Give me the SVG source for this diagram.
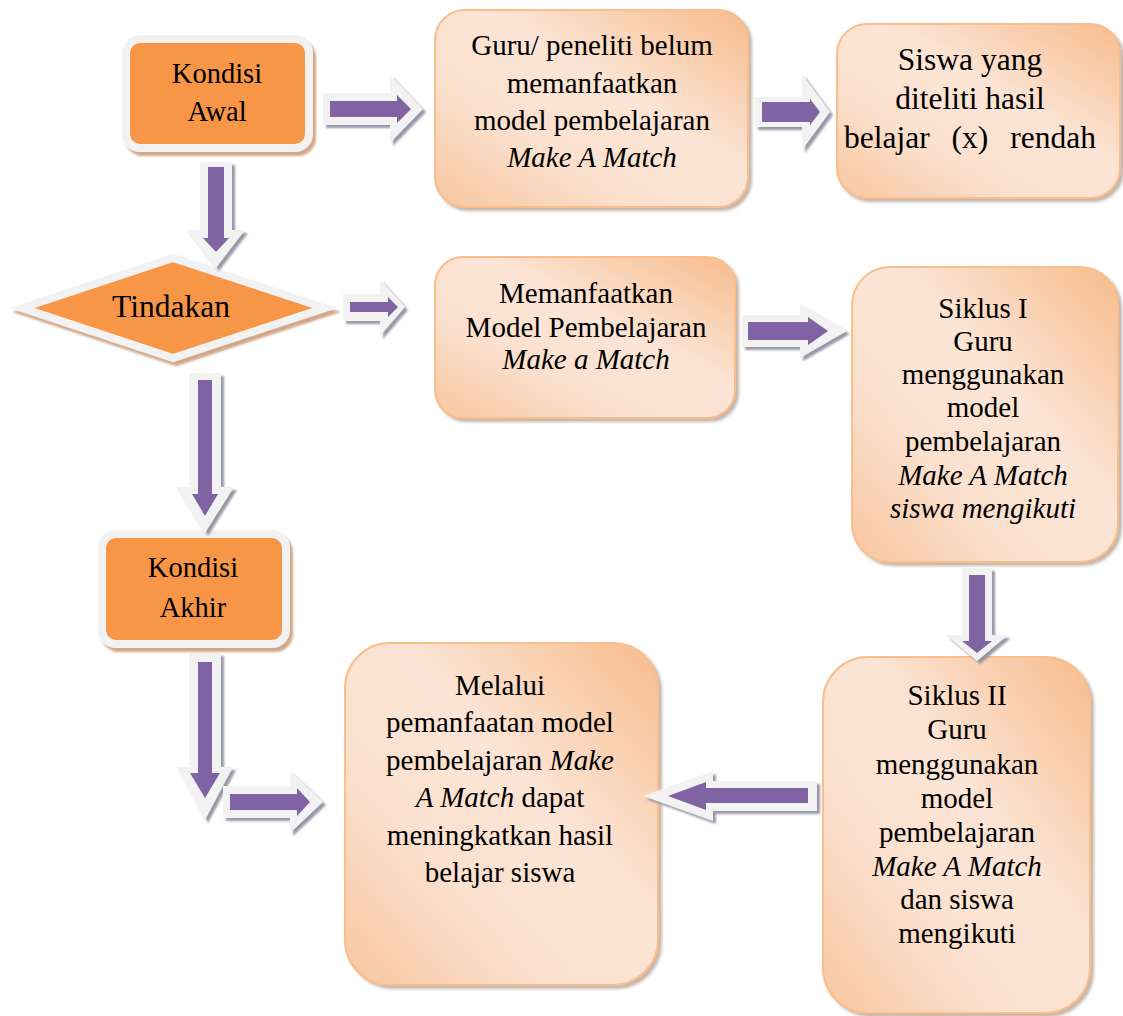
<svg xmlns="http://www.w3.org/2000/svg" width="1123" height="1016" viewBox="0 0 1123 1016">
<defs>
<style>
text{font-family:'Liberation Serif','Times New Roman',Times,'Nimbus Roman',FreeSerif,'Noto Serif',Tinos,'DejaVu Serif',serif}
.t{font-size:29px;fill:#000;text-anchor:middle}
.big{font-size:31.5px}
.k{font-size:28.5px}
.i{font-style:italic}
.grad{fill:url(#g);stroke:#F9BE8C;stroke-width:2;filter:url(#bs)}
.org{fill:#F79646;stroke:#F2F2F2;stroke-width:8;filter:url(#os)}
.aw{fill:#F2F2F2}
.ap{fill:#8064A2}
</style>
<linearGradient id="g" x1="1" y1="0" x2="0" y2="1">
<stop offset="0" stop-color="#F7BC8C"/>
<stop offset="0.42" stop-color="#FCE5D6"/>
<stop offset="0.68" stop-color="#FBE0CD"/>
<stop offset="1" stop-color="#F8C6A0"/>
</linearGradient>
<filter id="as" x="-20%" y="-20%" width="150%" height="150%"><feDropShadow dx="3" dy="3" stdDeviation="0.8" flood-color="#8e8c9c" flood-opacity="0.9"/></filter>
<filter id="os" x="-10%" y="-10%" width="130%" height="130%"><feDropShadow dx="3" dy="4" stdDeviation="1" flood-color="#c99873" flood-opacity="0.85"/></filter>
<filter id="bs" x="-10%" y="-10%" width="130%" height="130%"><feDropShadow dx="3" dy="3" stdDeviation="1.5" flood-color="#9c8574" flood-opacity="0.6"/></filter>
</defs>
<rect width="1123" height="1016" fill="#fff"/>

<g id="kondisi-awal">
<rect class="org" x="126" y="39" width="183" height="109" rx="14"/>
<text class="t k" x="217" y="83">Kondisi</text>
<text class="t k" x="217" y="121">Awal</text>
</g>

<g id="guru-belum">
<rect class="grad" x="435" y="10" width="313" height="197" rx="30"/>
<text class="t" x="592" y="55">Guru/ peneliti belum</text>
<text class="t" x="592" y="93">memanfaatkan</text>
<text class="t" x="592" y="130">model pembelajaran</text>
<text class="t i" x="592" y="167">Make A Match</text>
</g>

<g id="siswa-rendah">
<rect class="grad" x="837" y="24" width="283" height="174" rx="30"/>
<text class="t big" x="970" y="70">Siswa yang</text>
<text class="t big" x="970" y="109">diteliti hasil</text>
<text class="t big" x="970" y="148" word-spacing="14">belajar (x) rendah</text>
</g>

<g id="tindakan">
<polygon class="org" points="22,308 173,258 325,308 173,358"/>
<text class="t big" x="171" y="317">Tindakan</text>
</g>

<g id="memanfaatkan">
<rect class="grad" x="435" y="257" width="300" height="161" rx="28"/>
<text class="t" x="586" y="303">Memanfaatkan</text>
<text class="t" x="586" y="337">Model Pembelajaran</text>
<text class="t i" x="586" y="369">Make a Match</text>
</g>

<g id="siklus-1">
<rect class="grad" x="852" y="267" width="266" height="295" rx="38"/>
<text class="t" x="983" y="318">Siklus I</text>
<text class="t" x="983" y="351">Guru</text>
<text class="t" x="983" y="384">menggunakan</text>
<text class="t" x="983" y="417">model</text>
<text class="t" x="983" y="451">pembelajaran</text>
<text class="t i" x="983" y="485">Make A Match</text>
<text class="t i" x="983" y="518">siswa mengikuti</text>
</g>

<g id="kondisi-akhir">
<rect class="org" x="102" y="534" width="184" height="110" rx="14"/>
<text class="t k" x="193" y="577">Kondisi</text>
<text class="t k" x="193" y="617">Akhir</text>
</g>

<g id="siklus-2">
<rect class="grad" x="823" y="657" width="267" height="356" rx="45"/>
<text class="t" x="957" y="705">Siklus II</text>
<text class="t" x="957" y="739">Guru</text>
<text class="t" x="957" y="774">menggunakan</text>
<text class="t" x="957" y="808">model</text>
<text class="t" x="957" y="842">pembelajaran</text>
<text class="t i" x="957" y="876">Make A Match</text>
<text class="t" x="957" y="909">dan siswa</text>
<text class="t" x="957" y="943">mengikuti</text>
</g>

<g id="melalui">
<rect class="grad" x="345" y="643" width="313" height="342" rx="45"/>
<text class="t" x="500" y="695">Melalui</text>
<text class="t" x="500" y="732">pemanfaatan model</text>
<text class="t" x="500" y="770">pembelajaran <tspan class="i">Make</tspan></text>
<text class="t" x="500" y="807"><tspan class="i">A Match</tspan> dapat</text>
<text class="t" x="500" y="845">meningkatkan hasil</text>
<text class="t" x="500" y="882">belajar siswa</text>
</g>

<g id="connectors">
<g filter="url(#as)"><path class="aw" d="M323,93 H390 V75 L423,109 L390,143 V125 H323 Z"/><path class="ap" d="M330,101 H397 V95 L411,109 L397,123 V117 H330 Z"/></g>
<g filter="url(#as)"><path class="aw" d="M755,97 H802 V74 L830,112 L802,150 V127 H755 Z"/><path class="ap" d="M762,102 H810 V99 L820,112 L810,125 V122 H762 Z"/></g>
<g filter="url(#as)"><path class="aw" d="M200,162 V230 H187 L216,268 L245,230 H232 V162 Z"/><path class="ap" d="M208,167 V238 H203 L216,252 L229,238 H224 V167 Z"/></g>
<g filter="url(#as)"><path class="aw" d="M343,294 H380 V279 L405,307 L380,336 V321 H343 Z"/><path class="ap" d="M350,302 H388 V297 L398,307 L388,317 V312 H350 Z"/></g>
<g filter="url(#as)"><path class="aw" d="M742,315 H800 V304 L847,331 L800,358 V347 H742 Z"/><path class="ap" d="M748,322 H808 V317 L828,331 L808,345 V340 H748 Z"/></g>
<g filter="url(#as)"><path class="aw" d="M189,373 V487 H176 L205,533 L234,487 H221 V373 Z"/><path class="ap" d="M198,380 V494 H192 L205,516 L218,494 H212 V380 Z"/></g>
<g filter="url(#as)"><path class="aw" d="M189,653 V767 H177 L205,820 L233,767 H221 V653 Z"/><path class="ap" d="M198,662 V773 H190 L205,798 L220,773 H212 V662 Z"/></g>
<g filter="url(#as)"><path class="aw" d="M223,786 H290 V771 L323,802 L290,833 V818 H223 Z"/><path class="ap" d="M230,794 H297 V788 L310,802 L297,816 V810 H230 Z"/></g>
<g filter="url(#as)"><path class="aw" d="M962,568 V635 H946 L977,661 L1008,635 H992 V568 Z"/><path class="ap" d="M969,575 V641 H962 L977,653 L992,641 H985 V575 Z"/></g>
<g filter="url(#as)"><path class="aw" d="M817,781 H713 V771 L643,796 L713,821 V811 H817 Z"/><path class="ap" d="M808,788 H706 V782 L668,796 L706,810 V803 H808 Z"/></g>
</g>
</svg>
